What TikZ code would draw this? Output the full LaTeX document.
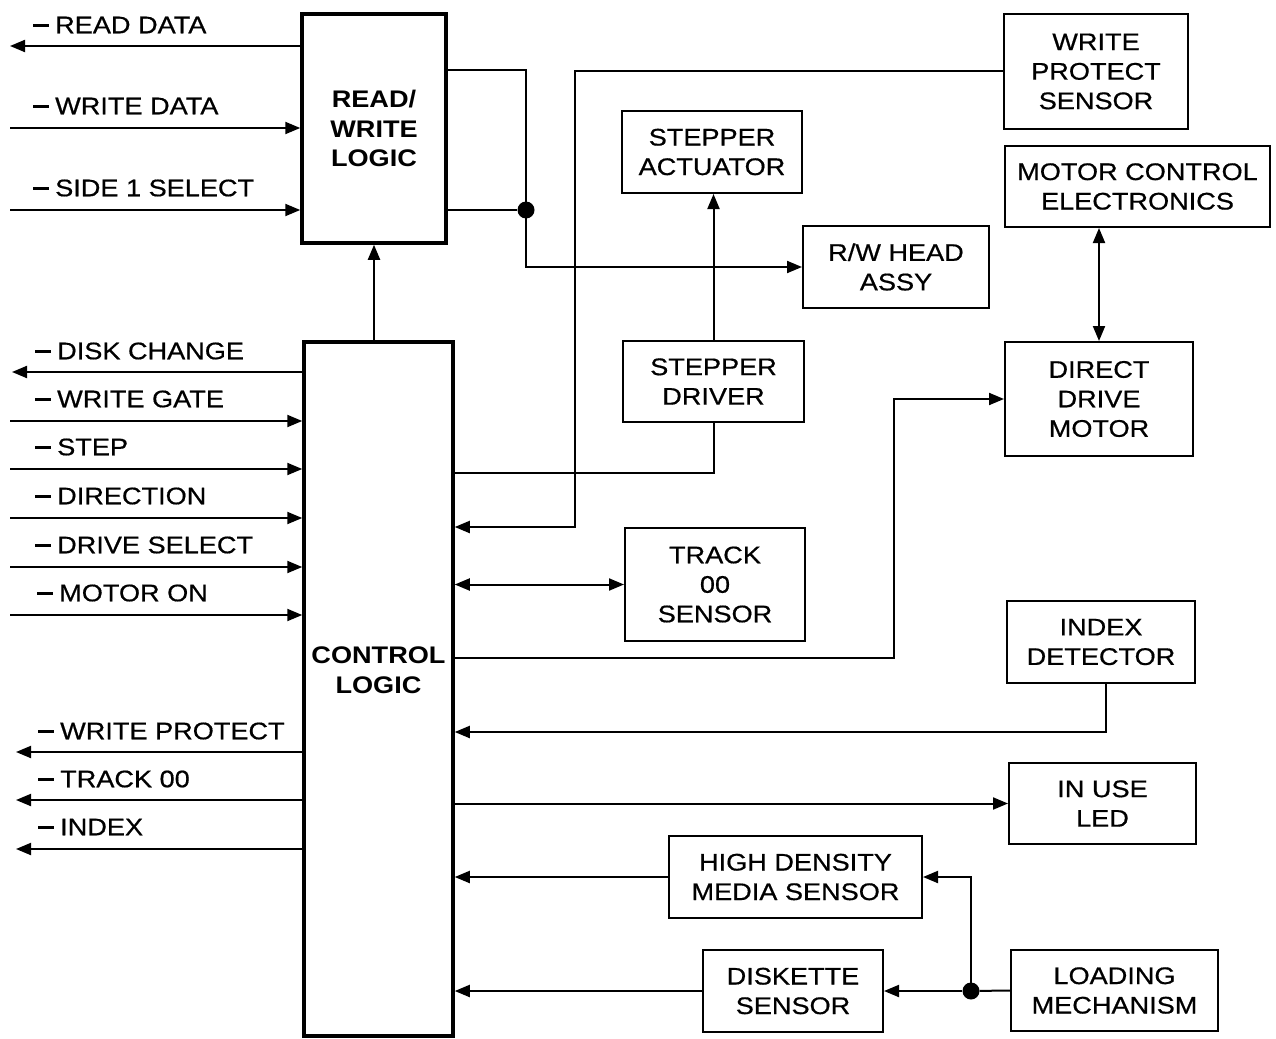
\documentclass[tikz,border=0pt]{standalone}
\usepackage{fontspec}
\setmainfont[FakeStretch=1.13,UprightFeatures={FakeBold=0.6}]{Liberation Sans}
\usetikzlibrary{arrows.meta}
\newcommand\sigtext[1]{\rule[6.5pt]{16pt}{2.4pt}\kern6pt #1}
\begin{document}
\begin{tikzpicture}[x=1pt,y=-1pt,
  box/.style={draw,line width=2pt,inner sep=0pt,align=center,font=\fontsize{24}{29.5}\selectfont},
  logic/.style={box,line width=3.5pt,font=\fontsize{24}{29.5}\selectfont\bfseries},
  lab/.style={anchor=west,inner sep=0pt,font=\fontsize{24}{29.5}\selectfont},
  wire/.style={line width=2pt},
  arr/.style={wire,-{Triangle[length=15pt,width=12pt]}},
  darr/.style={wire,{Triangle[length=15pt,width=12pt]}-{Triangle[length=15pt,width=12pt]}},
  dot/.style={circle,fill,inner sep=0pt,minimum size=17pt}]
\useasboundingbox (0,0) rectangle (1276,1038);

% logic blocks
\node[logic,minimum width=144pt,minimum height=229pt] (rwl) at (374,128.5) {READ/\\WRITE\\LOGIC};
\node[logic,minimum width=149pt,minimum height=694pt] (ctl) at (378.5,689) {};
\node[inner sep=0pt,align=center,font=\fontsize{24}{29.5}\selectfont\bfseries] (ctltext) at (378.5,670) {CONTROL\\LOGIC};

% boxes
\node[box,minimum width=184pt,minimum height=115pt] (wps) at (1096,71.5) {WRITE\\PROTECT\\SENSOR};
\node[box,minimum width=180pt,minimum height=82pt] (sa) at (712,152) {STEPPER\\ACTUATOR};
\node[box,minimum width=265pt,minimum height=81pt] (mce) at (1137.5,186.5) {MOTOR CONTROL\\ELECTRONICS};
\node[box,minimum width=186pt,minimum height=82pt] (rwh) at (896,267) {R/W HEAD\\ASSY};
\node[box,minimum width=181pt,minimum height=81pt] (sd) at (713.5,381.5) {STEPPER\\DRIVER};
\node[box,minimum width=188pt,minimum height=114pt] (ddm) at (1099,399) {DIRECT\\DRIVE\\MOTOR};
\node[box,minimum width=180pt,minimum height=113pt] (t00) at (715,584.5) {TRACK\\00\\SENSOR};
\node[box,minimum width=188pt,minimum height=82pt] (idd) at (1101,642) {INDEX\\DETECTOR};
\node[box,minimum width=187pt,minimum height=81pt] (led) at (1102.5,803.5) {IN USE\\LED};
\node[box,minimum width=253pt,minimum height=82pt] (hd) at (795.5,877) {HIGH DENSITY\\MEDIA SENSOR};
\node[box,minimum width=180pt,minimum height=82pt] (ds) at (793,991) {DISKETTE\\SENSOR};
\node[box,minimum width=207pt,minimum height=81pt] (lm) at (1114.5,990.5) {LOADING\\MECHANISM};

% junction dots
\node[dot] (dot1) at (526,210) {};
\node[dot] (dot2) at (971,991) {};

% helper coordinates
\coordinate (y70) at (0,70);
\coordinate (wpturn) at (575,527);
\coordinate (sdturn) at (713.5,473);
\coordinate (ddturn) at (894,658);
\coordinate (idx) at (1106,732);

% internal connectors
\draw[arr] (rwl.east |- y70) -| (dot1.center) |- (rwh.west);
\draw[wire] (rwl.east |- dot1) -- (dot1);
\draw[arr] (wps.west) -| (wpturn) -- (ctl.east |- wpturn);
\draw[arr] (sd.north) -- (sd.north |- sa.south);
\draw[wire] (ctl.east |- sdturn) -| (sd.south);
\draw[darr] (ctl.east |- t00.west) -- (t00.west);
\draw[arr] (ctl.east |- ddturn) -- (ddturn) |- (ddm.west);
\draw[darr] (ddm.north) -- (ddm.north |- mce.south);
\draw[arr] (idx |- idd.south) -- (idx) -- (ctl.east |- idx);
\draw[arr] (ctl.east |- led.west) -- (led.west);
\draw[arr] (hd.west) -- (ctl.east |- hd.west);
\draw[arr] (ds.west) -- (ctl.east |- ds.west);
\draw[wire] (lm.west) -- (dot2);
\draw[arr] (dot2) -- (ds.east);
\draw[arr] (dot2.center) |- (hd.east);
\draw[arr] (ctl.north -| rwl.south) -- (rwl.south);

% left signals
\coordinate (rd) at (10,46);
\coordinate (wd) at (10,128);
\coordinate (s1) at (10,210);
\coordinate (dc) at (12,372);
\coordinate (wg) at (10,421);
\coordinate (st) at (10,469);
\coordinate (dir) at (10,518);
\coordinate (dsel) at (10,567);
\coordinate (mo) at (10,615);
\coordinate (wp) at (16,752);
\coordinate (tk) at (16,800);
\coordinate (ix) at (16,849);

\draw[arr] (rwl.west |- rd) -- (rd);
\draw[arr] (wd) -- (rwl.west |- wd);
\draw[arr] (s1) -- (rwl.west |- s1);
\draw[arr] (ctl.west |- dc) -- (dc);
\draw[arr] (wg) -- (ctl.west |- wg);
\draw[arr] (st) -- (ctl.west |- st);
\draw[arr] (dir) -- (ctl.west |- dir);
\draw[arr] (dsel) -- (ctl.west |- dsel);
\draw[arr] (mo) -- (ctl.west |- mo);
\draw[arr] (ctl.west |- wp) -- (wp);
\draw[arr] (ctl.west |- tk) -- (tk);
\draw[arr] (ctl.west |- ix) -- (ix);

\node[lab] (lrd) at (33,25) {\sigtext{READ DATA}};
\node[lab] (lwd) at (33,106) {\sigtext{WRITE DATA}};
\node[lab] (ls1) at (33,188) {\sigtext{SIDE 1 SELECT}};
\node[lab] (ldc) at (35,351) {\sigtext{DISK CHANGE}};
\node[lab] (lwg) at (35,399) {\sigtext{WRITE GATE}};
\node[lab] (lst) at (35,447) {\sigtext{STEP}};
\node[lab] (ldir) at (35,496) {\sigtext{DIRECTION}};
\node[lab] (ldsel) at (35,545) {\sigtext{DRIVE SELECT}};
\node[lab] (lmo) at (37,593) {\sigtext{MOTOR ON}};
\node[lab] (lwp) at (38,731) {\sigtext{WRITE PROTECT}};
\node[lab] (ltk) at (38,779) {\sigtext{TRACK 00}};
\node[lab] (lix) at (38,827) {\sigtext{INDEX}};
\end{tikzpicture}
\end{document}
